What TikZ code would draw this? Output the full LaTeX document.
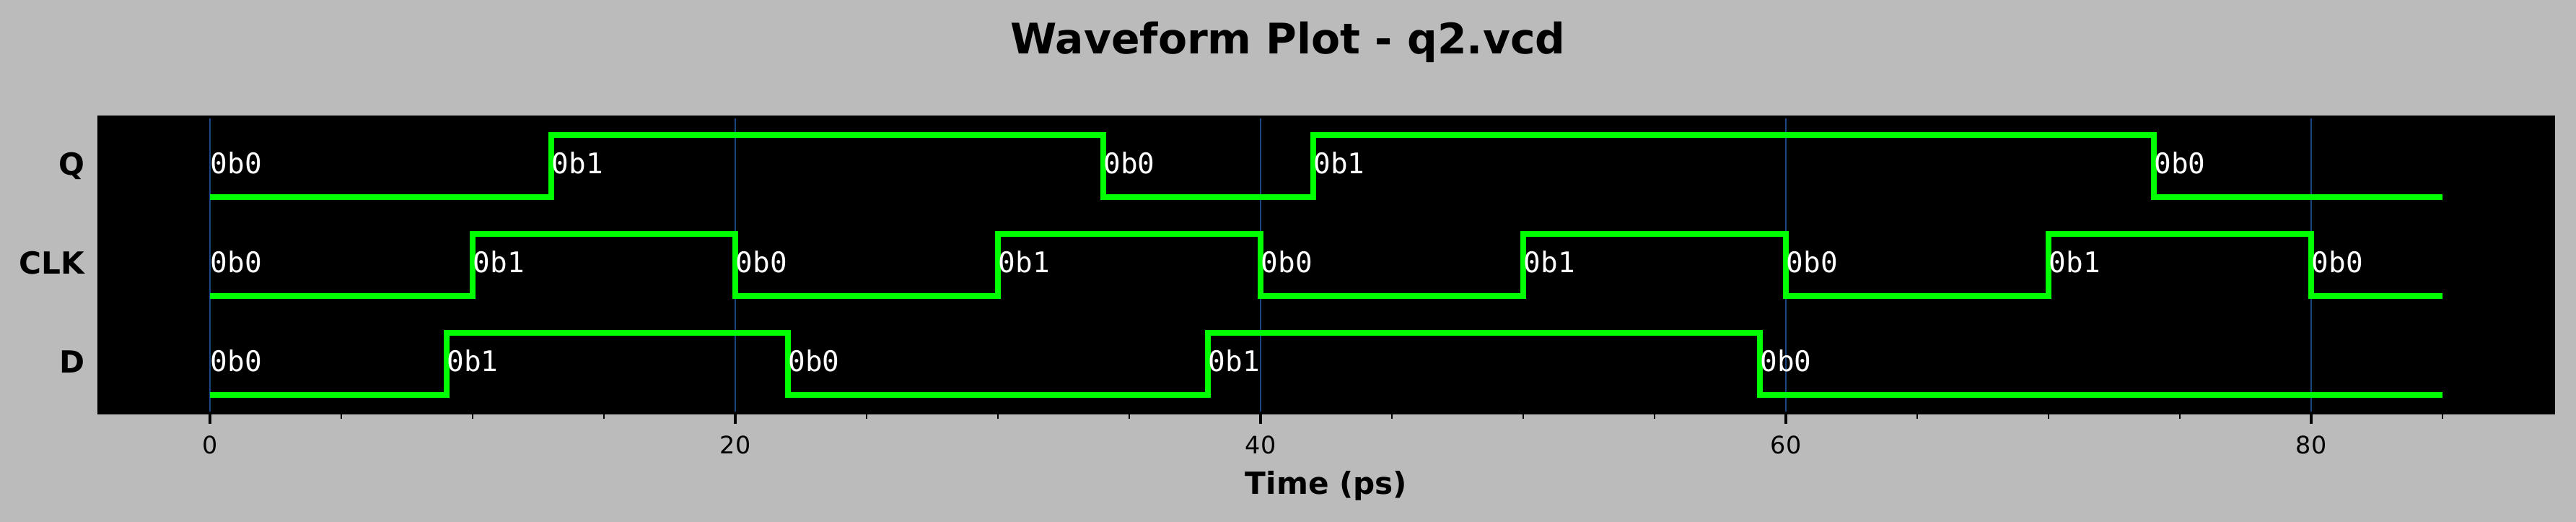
\documentclass[tikz,border=0pt]{standalone}
\usepackage{fontspec}
\setmainfont{DejaVu Sans}
\newfontfamily\monofont{DejaVu Sans Mono}
\usetikzlibrary{positioning}
\definecolor{plotbg}{RGB}{187,187,187}
\definecolor{wavegreen}{RGB}{0,255,0}
\definecolor{gridblue}{RGB}{25,70,130}

\begin{document}
\begin{tikzpicture}[x=0.364cm, y=1cm,
                    wave/.style={draw=wavegreen, line width=2.3pt},
                    value/.style={text=white, inner sep=0pt, anchor=base west, font=\monofont\fontsize{11.2}{13}\selectfont},
                    signame/.style={inner sep=0pt, anchor=base east, font=\bfseries\fontsize{12}{14}\selectfont},
                    ticklabel/.style={inner sep=0pt, anchor=north, font=\fontsize{9.5}{11}\selectfont}]
                    \useasboundingbox[fill=plotbg] (-7.995,-1.51) rectangle (90.082,5.72);

                    % plot area and grid
                    \fill[black] (-4.25,0) rectangle (89.25,4.10);
                    \foreach \t in {0,20,...,80}
                        \draw[gridblue, line width=0.4pt] (\t,0) -- (\t,4.10);

                    % Q
                    \begin{scope}[yshift=2.993cm]
                        \node[signame](nameQ) at (-4.753,0.305){Q};
                        \draw[wave] (0,0) -| (13,0.86) -| (34,0) -| (42,0.86) -| (74,0) -- (85,0);
                        \node[value](q0) at (0,0.32){0b0};
                        \node[value](q1) at (13,0.32){0b1};
                        \node[value](q2) at (34,0.32){0b0};
                        \node[value](q3) at (42,0.32){0b1};
                        \node[value](q4) at (74,0.32){0b0};
                    \end{scope}

                    % CLK
                    \begin{scope}[yshift=1.623cm]
                        \node[signame](nameCLK) at (-4.753,0.305){CLK};
                        \draw[wave] (0,0) -| (10,0.86) -| (20,0) -| (30,0.86) -| (40,0) -| (50,0.86) -| (60,0) -| (70,0.86) -| (80,0) -- (85,0);
                        \foreach \t/\v in {0/0,10/1,20/0,30/1,40/0,50/1,60/0,70/1,80/0}
                            \node[value](clk\t) at (\t,0.32){0b\v};
                    \end{scope}

                    % D
                    \begin{scope}[yshift=0.253cm]
                        \node[signame](nameD) at (-4.753,0.305){D};
                        \draw[wave] (0,0) -| (9,0.86) -| (22,0) -| (38,0.86) -| (59,0) -- (85,0);
                        \node[value](d0) at (0,0.32){0b0};
                        \node[value](d1) at (9,0.32){0b1};
                        \node[value](d2) at (22,0.32){0b0};
                        \node[value](d3) at (38,0.32){0b1};
                        \node[value](d4) at (59,0.32){0b0};
                    \end{scope}

                    % axis
                    \draw[black, line width=0.95pt] (-4.25,0) rectangle (89.25,4.10);
                    \foreach \t in {5,10,...,85}
                        \draw[black, line width=0.7pt] (\t,0) -- (\t,-0.083);
                    \foreach \t in {0,20,...,80}{
                        \draw[black, line width=0.95pt] (\t,0) -- (\t,-0.146);
                        \node[ticklabel](tick\t) at (\t,-0.31){\t};
                    }
                    \node[anchor=base, font=\bfseries\fontsize{12}{14}\selectfont](xlabel) at (42.5,-1.13){Time (ps)};
                    \node[anchor=base, font=\bfseries\fontsize{16.6}{20}\selectfont](title) at (41.04,4.97){Waveform Plot - q2.vcd};
                \end{tikzpicture}
\end{document}
